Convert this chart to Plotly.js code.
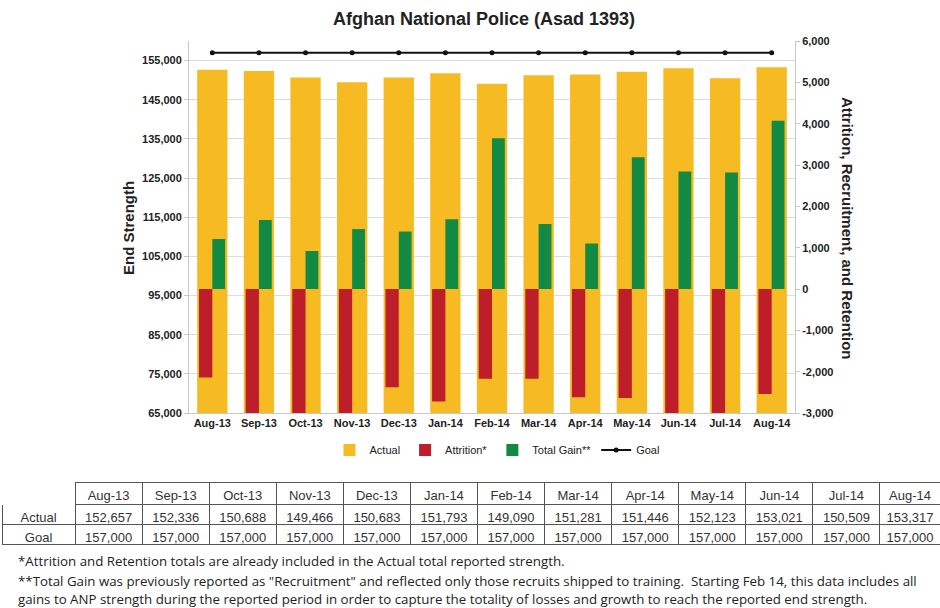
<!DOCTYPE html>
<html>
<head>
<meta charset="utf-8">
<script src="https://cdn.plot.ly/plotly-3.0.1.min.js"></script>
<style>html,body{margin:0;padding:0;background:#fff;}#chart{width:940px;height:608px;}</style>
</head>
<body>
<div id="chart"></div>
<script>
// ---- data ----
var months = ["Aug-13","Sep-13","Oct-13","Nov-13","Dec-13","Jan-14","Feb-14","Mar-14","Apr-14","May-14","Jun-14","Jul-14","Aug-14"];
var actual = [152657,152336,150688,149466,150683,151793,149090,151281,151446,152123,153021,150509,153317];
var goal = [157000,157000,157000,157000,157000,157000,157000,157000,157000,157000,157000,157000,157000];
var attrition = [-2140,-3200,-3250,-3300,-2380,-2720,-2170,-2170,-2620,-2640,-3250,-3300,-2540];
var totalGain = [1210,1670,920,1450,1390,1690,3650,1570,1100,3190,2840,2820,4070];
var leftTicks = [65000,75000,85000,95000,105000,115000,125000,135000,145000,155000];
var leftTickText = ["65,000","75,000","85,000","95,000","105,000","115,000","125,000","135,000","145,000","155,000"];
var rightTicks = [-3000,-2000,-1000,0,1000,2000,3000,4000,5000,6000];
var rightTickText = ["-3,000","-2,000","-1,000","0","1,000","2,000","3,000","4,000","5,000","6,000"];
var tableRowLabels = ["Actual","Goal"];
var footnotes = [
  "*Attrition and Retention totals are already included in the Actual total reported strength.",
  "**Total Gain was previously reported as \"Recruitment\" and reflected only those recruits shipped to training.  Starting Feb 14, this data includes all",
  "gains to ANP strength during the reported period in order to capture the totality of losses and growth to reach the reported end strength."
];

function fmt(n){ return n.toString().replace(/\B(?=(\d{3})+(?!\d))/g, ","); }

var FONT = "Liberation Sans, Arial, sans-serif";
var NOTE = "Open Sans, Liberation Sans, sans-serif";
var YEL = "#F6BA22", RED = "#BE1E2A", GRN = "#138A44";

var traces = [
  {type:"bar", name:"Actual", x:months, y:actual, width:0.65, marker:{color:YEL}, xaxis:"x", yaxis:"y"},
  {type:"bar", name:"Attrition*", x:months, y:attrition, width:0.285, offset:-0.285, marker:{color:RED}, xaxis:"x", yaxis:"y2"},
  {type:"bar", name:"Total Gain**", x:months, y:totalGain, width:0.275, offset:0, marker:{color:GRN}, xaxis:"x", yaxis:"y2"},
  {type:"scatter", mode:"lines+markers", name:"Goal", x:months, y:goal, line:{color:"#111", width:2}, marker:{color:"#111", size:5}, xaxis:"x", yaxis:"y"}
];

// table columns
var headerVals = [""].concat(months);
var cellVals = [tableRowLabels];
for (var i=0;i<months.length;i++){ cellVals.push([fmt(actual[i]), fmt(goal[i])]); }
var colW = [73];
for (var i=0;i<months.length-1;i++) colW.push(67);
colW.push(60);
var headLine = ["#ffffff"];
for (var i=0;i<months.length;i++) headLine.push("#555");

traces.push({
  type:"table",
  domain:{x:[2/940, 1], y:[(608-545)/608, (608-482)/608]},
  columnwidth: colW,
  header:{values:headerVals, height:22, align:"center", fill:{color:"#fff"}, line:{color:headLine, width:1}, font:{family:FONT, size:13, color:"#333"}},
  cells:{values:cellVals, height:20, align:"center", fill:{color:"#fff"}, line:{color:"#555", width:1}, font:{family:FONT, size:13, color:"#333"}},
  showlegend:false
});

var ann = [
  {text:"End Strength", xref:"paper", yref:"paper", x:128/940, y:(608-228)/608, xanchor:"center", yanchor:"middle", textangle:-90, showarrow:false, font:{family:FONT, size:15, color:"#222", weight:"bold"}},
  {text:"Attrition, Recruitment, and Retention", xref:"paper", yref:"paper", x:848/940, y:(608-228)/608, xanchor:"center", yanchor:"middle", textangle:90, showarrow:false, font:{family:FONT, size:15, color:"#222", weight:"bold"}}
];
for (var k=0;k<footnotes.length;k++){
  ann.push({text:footnotes[k], xref:"paper", yref:"paper", x:16/940, y:(608-[561,581,599][k])/608, xanchor:"left", yanchor:"middle", showarrow:false, font:{family:NOTE, size:13.3, color:"#222"}});
}

var layout = {
  width:940, height:608,
  margin:{l:0, r:0, t:0, b:0},
  paper_bgcolor:"#fff", plot_bgcolor:"#fff",
  barmode:"overlay",
  title:{text:"Afghan National Police (Asad 1393)", x:484/940, xanchor:"center", y:(608-19)/608, yanchor:"middle", font:{family:FONT, size:18, color:"#222", weight:"bold"}},
  xaxis:{domain:[189/940, 795/940], anchor:"y", range:[-0.5, 12.5], showline:true, linecolor:"#c8c8c8", ticks:"", showgrid:false,
         tickfont:{family:FONT, size:11, color:"#222", weight:"bold"}},
  yaxis:{domain:[(608-413)/608, (608-41)/608], range:[65000,160000], tickvals:leftTicks, ticktext:leftTickText,
         showline:true, linecolor:"#c8c8c8", ticks:"outside", ticklen:4, tickcolor:"#c8c8c8",
         showgrid:true, gridcolor:"#dcdcdc", zeroline:false, tickfont:{family:FONT, size:11, color:"#222", weight:"bold"}},
  yaxis2:{overlaying:"y", side:"right", anchor:"x", range:[-3000,6000], tickvals:rightTicks, ticktext:rightTickText,
          showline:true, linecolor:"#c8c8c8", ticks:"outside", ticklen:4, tickcolor:"#c8c8c8",
          showgrid:false, zeroline:false, tickfont:{family:FONT, size:11, color:"#222", weight:"bold"}},
  legend:{orientation:"h", x:497/940, xanchor:"center", y:(608-450)/608, yanchor:"middle",
          font:{family:FONT, size:11, color:"#222"}, itemwidth:30, traceorder:"normal"},
  annotations:ann,
  showlegend:true
};

Plotly.newPlot("chart", traces, layout, {displayModeBar:false, staticPlot:true});
</script>
</body>
</html>
